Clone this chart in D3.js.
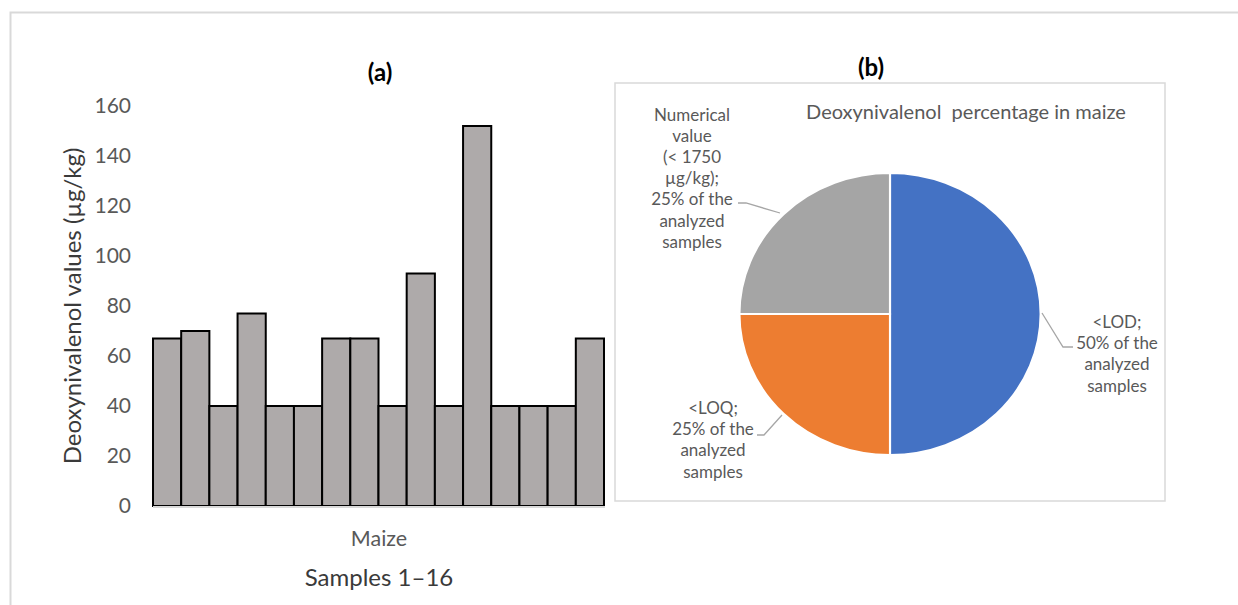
<!DOCTYPE html>
<html>
<head>
<meta charset="utf-8">
<script src="https://cdn.jsdelivr.net/npm/d3@7"></script>
<style>
  body { margin: 0; background: #fff; }
  svg text { font-family: Lato, "Open Sans", sans-serif; }
</style>
</head>
<body>
<svg id="chart" width="1238" height="605"></svg>
<script>
// sample values, µg/kg
const samples = d3.range(1, 17);
const donValues = [67, 70, 40, 77, 40, 40, 67, 67, 40, 93, 40, 152, 40, 40, 40, 67];
const yTicks = [0, 20, 40, 60, 80, 100, 120, 140, 160];

// pie shares
const pieLabels = ["<LOD", "<LOQ", "Numerical value"];
const pieShares = [50, 25, 25];
const pieColors = ["#4472c4", "#ed7d31", "#a5a5a5"];

const svg = d3.select('#chart');
const grey = '#595959';

// outer frame
svg.append('rect')
  .attr('x', 10.5).attr('y', 12.5)
  .attr('width', 1240).attr('height', 610)
  .attr('fill', 'none').attr('stroke', '#d9d9d9').attr('stroke-width', 2);

// ---------- (a) bar chart ----------
const x = d3.scaleBand().domain(samples).range([153, 604]).padding(0);
const y = d3.scaleLinear().domain([0, 160]).range([506, 106]);

svg.append('text')
  .attr('x', 380).attr('y', 81)
  .attr('text-anchor', 'middle')
  .attr('font-size', 24).attr('font-weight', 'bold').attr('fill', '#000')
  .text('(a)');

svg.selectAll('.bar')
  .data(donValues)
  .enter()
  .append('rect')
  .attr('class', 'bar')
  .attr('x', (d, i) => x(samples[i]))
  .attr('y', d => y(d))
  .attr('width', x.bandwidth())
  .attr('height', d => y(0) - y(d))
  .attr('fill', '#aeaaaa')
  .attr('stroke', '#000')
  .attr('stroke-width', 2);

const yAxis = svg.append('g')
  .attr('transform', 'translate(153,0)')
  .call(d3.axisLeft(y).tickValues(yTicks).tickSize(0).tickPadding(22));
yAxis.select('.domain').remove();
yAxis.selectAll('text')
  .attr('font-size', 21).attr('fill', grey)
  .style('font-family', 'Lato, sans-serif');

// x axis line
svg.append('line')
  .attr('x1', 153).attr('x2', 605)
  .attr('y1', y(0) + 1).attr('y2', y(0) + 1)
  .attr('stroke', '#d9d9d9').attr('stroke-width', 2);

svg.append('text')
  .attr('x', 379).attr('y', 546)
  .attr('text-anchor', 'middle')
  .attr('font-size', 21.5).attr('fill', grey)
  .text('Maize');

svg.append('text')
  .attr('x', 379).attr('y', 586)
  .attr('text-anchor', 'middle')
  .attr('font-size', 24).attr('fill', '#3a3a3a')
  .text('Samples 1–16');

svg.append('text')
  .attr('transform', 'translate(81,306) rotate(-90)')
  .attr('text-anchor', 'middle')
  .attr('font-size', 24).attr('fill', '#3a3a3a')
  .text('Deoxynivalenol values (µg/kg)');

// ---------- (b) pie chart ----------
svg.append('text')
  .attr('x', 871).attr('y', 76)
  .attr('text-anchor', 'middle')
  .attr('font-size', 24).attr('font-weight', 'bold').attr('fill', '#000')
  .text('(b)');

svg.append('rect')
  .attr('x', 615).attr('y', 83)
  .attr('width', 550).attr('height', 418)
  .attr('fill', '#fff').attr('stroke', '#d9d9d9').attr('stroke-width', 1.5);

svg.append('text')
  .attr('x', 966).attr('y', 119)
  .attr('text-anchor', 'middle')
  .attr('font-size', 20).attr('fill', grey)
  .style('white-space', 'pre')
  .text('Deoxynivalenol  percentage in maize');

const pie = d3.pie().sort(null).value(d => d);
const arc = d3.arc().innerRadius(0).outerRadius(141);

const pieG = svg.append('g')
  .attr('transform', 'translate(890,314) scale(1.068,1)');

pieG.selectAll('path')
  .data(pie(pieShares))
  .enter()
  .append('path')
  .attr('d', arc)
  .attr('fill', (d, i) => pieColors[i])
  .attr('stroke', '#fff')
  .attr('stroke-width', 2);

// data labels
const labelLines = [
  ['<LOD;', pieShares[0] + '% of the', 'analyzed', 'samples'],
  ['<LOQ;', pieShares[1] + '% of the', 'analyzed', 'samples'],
  ['Numerical', 'value', '(< 1750', 'µg/kg);', pieShares[2] + '% of the', 'analyzed', 'samples']
];
const labelPos = [[1117, 328], [713, 414], [692, 121]];
const lineGap = [21.2, 21.2, 21.1];

labelLines.forEach((lines, k) => {
  const t = svg.append('text')
    .attr('text-anchor', 'middle')
    .attr('font-size', 17).attr('fill', grey);
  lines.forEach((s, j) => {
    t.append('tspan')
      .attr('x', labelPos[k][0])
      .attr('y', labelPos[k][1] + j * lineGap[k])
      .text(s);
  });
});

// leader lines
const leaders = [
  [[1042, 313], [1063, 347], [1073, 347]],
  [[782, 415], [764, 435], [757, 435]],
  [[780, 213], [746, 203], [738, 203]]
];
svg.selectAll('.leader')
  .data(leaders)
  .enter()
  .append('path')
  .attr('class', 'leader')
  .attr('d', d => d3.line()(d))
  .attr('fill', 'none')
  .attr('stroke', '#a6a6a6')
  .attr('stroke-width', 1.3);
</script>
</body>
</html>
